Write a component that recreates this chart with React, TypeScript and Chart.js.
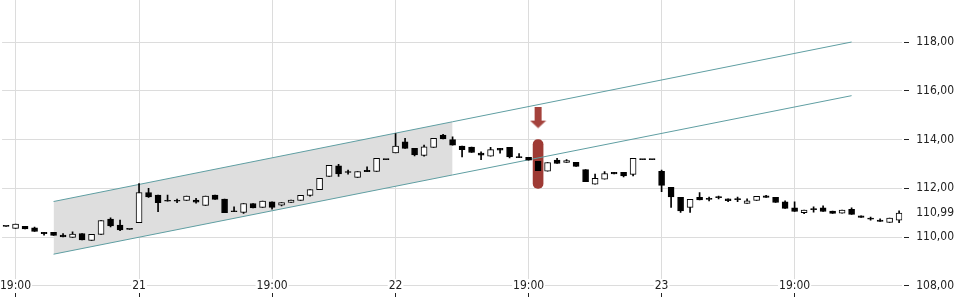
import React, { useEffect, useRef } from 'react';
import { Chart, registerables } from 'chart.js';

Chart.register(...registerables);

// ---- data ----
const opens = [
  110.44, 110.36, 110.44, 110.38, 110.20, 110.20, 110.08, 109.99, 110.15, 109.86,
  110.11, 110.74, 110.49, 110.32, 110.59, 111.83, 111.72, 111.49, 111.49, 111.50,
  111.52, 111.30, 111.72, 111.56, 111.06, 111.01, 111.38, 111.22, 111.45, 111.31,
  111.42, 111.50, 111.71, 111.95, 112.49, 112.92, 112.67, 112.45, 112.74, 112.69,
  113.18, 113.45, 113.91, 113.64, 113.35, 113.68, 114.18, 114.00, 113.73, 113.69,
  113.45, 113.32, 113.64, 113.68, 113.28, 113.27, 113.11, 112.70, 113.16, 113.06,
  113.07, 112.77, 112.17, 112.38, 112.66, 112.66, 112.57, 113.18, 113.18, 112.70,
  112.04, 111.63, 111.22, 111.63, 111.57, 111.64, 111.57, 111.56, 111.38, 111.50,
  111.69, 111.63, 111.45, 111.20, 111.00, 111.15, 111.20, 111.07, 110.98, 111.14,
  110.87, 110.76, 110.70, 110.60, 110.70,
];
const highs = [
  110.44, 110.53, 110.44, 110.41, 110.20, 110.20, 110.15, 110.22, 110.15, 110.11,
  110.68, 110.79, 110.70, 110.32, 112.20, 112.00, 111.72, 111.72, 111.56, 111.68,
  111.59, 111.68, 111.72, 111.56, 111.24, 111.38, 111.38, 111.48, 111.45, 111.42,
  111.52, 111.71, 111.95, 112.41, 112.94, 112.98, 112.75, 112.69, 112.88, 113.23,
  113.18, 114.25, 114.05, 113.64, 113.77, 114.05, 114.21, 114.11, 113.73, 113.69,
  113.50, 113.68, 113.64, 113.68, 113.43, 113.27, 113.11, 113.06, 113.23, 113.18,
  113.07, 112.77, 112.58, 112.69, 112.66, 112.66, 113.23, 113.18, 113.18, 112.75,
  112.04, 111.63, 111.55, 111.83, 111.64, 111.68, 111.57, 111.64, 111.57, 111.67,
  111.71, 111.63, 111.49, 111.45, 111.11, 111.24, 111.28, 111.07, 111.11, 111.20,
  110.87, 110.82, 110.75, 110.78, 111.08,
];
const lows = [
  110.44, 110.36, 110.34, 110.23, 110.08, 110.07, 110.01, 109.99, 109.89, 109.86,
  110.11, 110.42, 110.26, 110.32, 110.59, 111.63, 111.04, 111.47, 111.41, 111.50,
  111.39, 111.30, 111.55, 111.00, 111.04, 110.97, 111.20, 111.22, 111.15, 111.28,
  111.42, 111.50, 111.68, 111.95, 112.49, 112.49, 112.58, 112.45, 112.68, 112.69,
  113.18, 113.45, 113.64, 113.33, 113.32, 113.68, 114.03, 113.77, 113.29, 113.47,
  113.18, 113.32, 113.44, 113.25, 113.26, 113.16, 112.72, 112.70, 113.02, 113.06,
  112.90, 112.27, 112.17, 112.38, 112.59, 112.47, 112.51, 113.18, 113.18, 111.86,
  111.22, 111.01, 111.01, 111.53, 111.48, 111.57, 111.45, 111.45, 111.38, 111.50,
  111.63, 111.42, 111.18, 111.05, 110.96, 111.02, 111.05, 110.97, 110.98, 110.93,
  110.81, 110.70, 110.64, 110.60, 110.59,
];
const closes = [
  110.44, 110.53, 110.34, 110.23, 110.14, 110.07, 110.01, 110.12, 109.89, 110.11,
  110.68, 110.46, 110.30, 110.32, 111.83, 111.65, 111.41, 111.47, 111.47, 111.68,
  111.43, 111.68, 111.55, 111.00, 111.04, 111.38, 111.20, 111.48, 111.22, 111.42,
  111.52, 111.71, 111.95, 112.41, 112.94, 112.59, 112.65, 112.69, 112.68, 113.23,
  113.18, 113.73, 113.64, 113.37, 113.70, 114.05, 114.03, 113.77, 113.59, 113.47,
  113.36, 113.59, 113.57, 113.29, 113.26, 113.16, 112.72, 113.06, 113.02, 113.14,
  112.90, 112.27, 112.41, 112.61, 112.59, 112.51, 113.23, 113.18, 113.18, 112.12,
  111.65, 111.07, 111.55, 111.53, 111.55, 111.62, 111.49, 111.54, 111.49, 111.67,
  111.63, 111.42, 111.18, 111.05, 111.11, 111.13, 111.05, 110.97, 111.11, 110.93,
  110.81, 110.74, 110.64, 110.78, 110.99,
];

const xTickIndex = [1, 14, 28, 41, 55, 69, 83];
const xTickLabels = ['19:00', '21', '19:00', '22', '19:00', '23', '19:00'];
const yTickValues = [108, 110, 112, 114, 116, 118];

const channelX = [5, 47, 89];
const channelUpper = [111.46, 114.73, 118.0];
const channelLower = [109.3, 112.55, 115.8];

const signalIndex = 56;
const signalRange = [112.0, 114.0];
const signalArrowValue = 114.9;

export default function App() {
  const ref = useRef<HTMLCanvasElement>(null);

  useEffect(() => {
    const FAMILY = '"DejaVu Sans", sans-serif';
    const XFONT = { family: FAMILY, size: 12, weight: 'condensed', lineHeight: 1 };
    const YFONT = { family: FAMILY, size: 12, weight: 'condensed', lineHeight: 0.01 };
    const lastPrice = closes[closes.length - 1];
    const idx = closes.map((_, i) => i);
    const up = idx.map((i) => closes[i] > opens[i]);
    const bodies = idx.map((i) => ({ x: i, y: [opens[i], closes[i]] }));
    const wicks = idx.map((i) => ({ x: i, y: [lows[i], highs[i]] }));

    const red = 'rgb(158,58,52)';
    const arrow = document.createElement('canvas');
    arrow.width = 17;
    arrow.height = 22;
    const actx = arrow.getContext('2d')!;
    actx.fillStyle = 'rgb(164,66,60)';
    actx.fillRect(5, 0, 7, 14);
    actx.beginPath();
    actx.moveTo(0.5, 14);
    actx.lineTo(16.5, 14);
    actx.lineTo(8.5, 21.5);
    actx.closePath();
    actx.fill();

    const teal = 'rgb(95,158,162)';

    const chart = new Chart(ref.current!, {
      type: 'bar',
      data: {
        datasets: [
          {
            type: 'bar',
            data: bodies as any,
            backgroundColor: idx.map((i) => (up[i] ? '#ffffff' : '#000000')),
            borderColor: '#000000',
            borderWidth: 1,
            borderSkipped: false,
            barThickness: 6,
            grouped: false,
            minBarLength: 1,
            order: 0,
          } as any,
          {
            type: 'bar',
            data: wicks as any,
            backgroundColor: '#000000',
            borderWidth: 0,
            barThickness: 1,
            grouped: false,
            order: 1,
          } as any,
          {
            type: 'line',
            data: [{ x: signalIndex, y: signalArrowValue }],
            showLine: false,
            pointStyle: arrow as any,
            pointRadius: 1,
            order: 2,
          } as any,
          {
            type: 'line',
            data: [
              { x: channelX[0], y: channelUpper[0] },
              { x: channelX[2], y: channelUpper[2] },
            ],
            borderColor: teal,
            borderWidth: 1,
            pointRadius: 0,
            fill: false,
            order: 3,
          } as any,
          {
            type: 'line',
            data: [
              { x: channelX[0], y: channelLower[0] },
              { x: channelX[2], y: channelLower[2] },
            ],
            borderColor: teal,
            borderWidth: 1,
            pointRadius: 0,
            fill: false,
            order: 3,
          } as any,
          {
            type: 'bar',
            data: [{ x: signalIndex, y: signalRange }],
            backgroundColor: red,
            borderWidth: 0,
            borderRadius: 5,
            borderSkipped: false,
            barThickness: 10,
            grouped: false,
            order: 4,
          } as any,
          {
            type: 'line',
            data: [
              { x: channelX[0], y: channelUpper[0] },
              { x: channelX[1], y: channelUpper[1] },
            ],
            borderColor: 'rgba(0,0,0,0)',
            borderWidth: 0,
            pointRadius: 0,
            backgroundColor: '#dedede',
            fill: '+1',
            order: 5,
          } as any,
          {
            type: 'line',
            data: [
              { x: channelX[0], y: channelLower[0] },
              { x: channelX[1], y: channelLower[1] },
            ],
            borderColor: 'rgba(0,0,0,0)',
            borderWidth: 0,
            pointRadius: 0,
            fill: false,
            order: 6,
          } as any,
        ],
      },
      options: {
        animation: false,
        responsive: true,
        maintainAspectRatio: false,
        layout: { autoPadding: false, padding: { left: 0, right: 6, top: 0, bottom: 3 } },
        plugins: { legend: { display: false }, tooltip: { enabled: false } },
        scales: {
          x: {
            type: 'linear',
            position: 'bottom',
            min: -0.42,
            max: 94.33,
            offset: false,
            border: { display: false },
            grid: {
              color: '#dcdcdc',
              tickColor: '#222',
              tickLength: 5,
              offset: false,
            },
            ticks: {
              mirror: true,
              padding: 0,
              autoSkip: false,
              maxRotation: 0,
              font: XFONT,
              color: '#222',
              z: 1,
              showLabelBackdrop: true,
              backdropColor: '#ffffff',
              backdropPadding: { top: 1, bottom: 1, left: 1, right: 1 },
              callback: (v: any) => {
                const k = xTickIndex.indexOf(Number(v));
                return k >= 0 ? xTickLabels[k] : '';
              },
            },
            afterBuildTicks: (s: any) => {
              s.ticks = xTickIndex.map((v) => ({ value: v }));
            },
          } as any,
          y: {
            type: 'linear',
            position: 'right',
            min: 107.75,
            max: 119.72,
            border: { display: false },
            grid: {
              color: (c: any) =>
                c.tick && c.tick.value === lastPrice ? 'rgba(0,0,0,0)' : '#dcdcdc',
              tickColor: (c: any) =>
                c.tick && c.tick.value === lastPrice ? 'rgba(0,0,0,0)' : '#222',
              tickLength: 14,
              tickBorderDash: [0, 2, 5, 40],
            },
            ticks: {
              padding: 0,
              autoSkip: false,
              font: YFONT,
              color: '#222',
              callback: (v: any) => Number(v).toFixed(2).replace('.', ','),
            },
            afterBuildTicks: (s: any) => {
              s.ticks = [...yTickValues, lastPrice]
                .sort((a, b) => a - b)
                .map((v) => ({ value: v }));
            },
          } as any,
        },
      },
    });
    return () => chart.destroy();
  }, []);

  return (
    <div style={{ position: 'fixed', left: 0, top: 0, width: 960, height: 300, background: '#fff' }}>
      <canvas ref={ref} />
    </div>
  );
}
